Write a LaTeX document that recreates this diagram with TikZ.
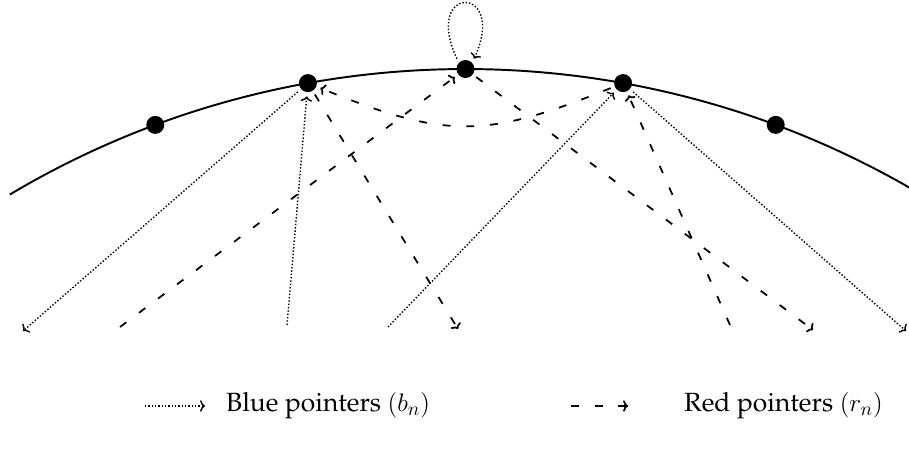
\documentclass[tikz,border=0pt]{standalone}
\usepackage[T1]{fontenc}
\renewcommand{\rmdefault}{ppl}
\usetikzlibrary{arrows.meta,positioning,calc}

\begin{document}
\begin{tikzpicture}[
  vertex/.style={circle,fill=black,inner sep=0pt,minimum size=0.36cm,outer sep=2.5pt},
  blueptr/.style={-{To[length=2.8pt,width=6.5pt]},line width=0.8pt,dash pattern=on 0.8pt off 1.1pt},
  redptr/.style={-{To[length=2.8pt,width=6.5pt]},line width=1pt,dash pattern=on 4.5pt off 9pt},
  legendtext/.style={right,font=\fontsize{15}{18}\selectfont}]
\useasboundingbox (0,0) rectangle (18.18,9.02);
% circle
\coordinate (O) at (9.31,-10.16);
\draw [line width=1.1pt] (O) ++(120.8:17.8) arc[start angle=120.8,end angle=59.9,radius=17.8];
% points on the circle
\node [vertex] (p1) at ($(O)+(110.4:17.8)$) {};
\node [vertex] (p2) at ($(O)+(100.2:17.8)$) {};
\node [vertex] (p3) at ($(O)+(90:17.8)$) {};
\node [vertex] (p4) at ($(O)+(79.8:17.8)$) {};
\node [vertex] (p5) at ($(O)+(69.6:17.8)$) {};
% free ends below
\coordinate (b1) at (0.46,2.40);
\coordinate (b2) at (5.74,2.52);
\coordinate (b3) at (7.76,2.48);
\coordinate (b4) at (18.12,2.40);
\coordinate (r1) at (2.40,2.48);
\coordinate (r2) at (9.16,2.44);
\coordinate (r4) at (16.26,2.42);
\coordinate (r5) at (14.60,2.52);
% blue pointers
\draw [blueptr] (p2) -- (b1);
\draw [blueptr] (b2) -- (p2);
\draw [blueptr] (b3) -- (p4);
\draw [blueptr] (p4) -- (b4);
\draw [blueptr] (p3.130) .. controls +(-0.7,1.5) and +(0.68,1.5) .. (p3.50);
% red pointers
\draw [redptr] (r1) -- (p3);
\draw [redptr] (p2) -- (r2);
\draw [redptr] (p4) to[out=202,in=338,looseness=1.2] (p2);
\draw [redptr] (p3) -- (r4);
\draw [redptr] (r5) -- (p4);
% legend
\coordinate (lb1) at (2.9,0.9);
\coordinate (lb2) at (4.1,0.9);
\coordinate (lr1) at (11.42,0.9);
\coordinate (lr2) at (12.56,0.9);
\draw [blueptr] (lb1) -- (lb2);
\draw [redptr] (lr1) -- (lr2);
\node [legendtext,right=0.3cm of lb2] (tb) {Blue pointers $(b_n)$};
\node [legendtext,right=1cm of lr2] (tr) {Red pointers $(r_n)$};
\end{tikzpicture}
\end{document}
